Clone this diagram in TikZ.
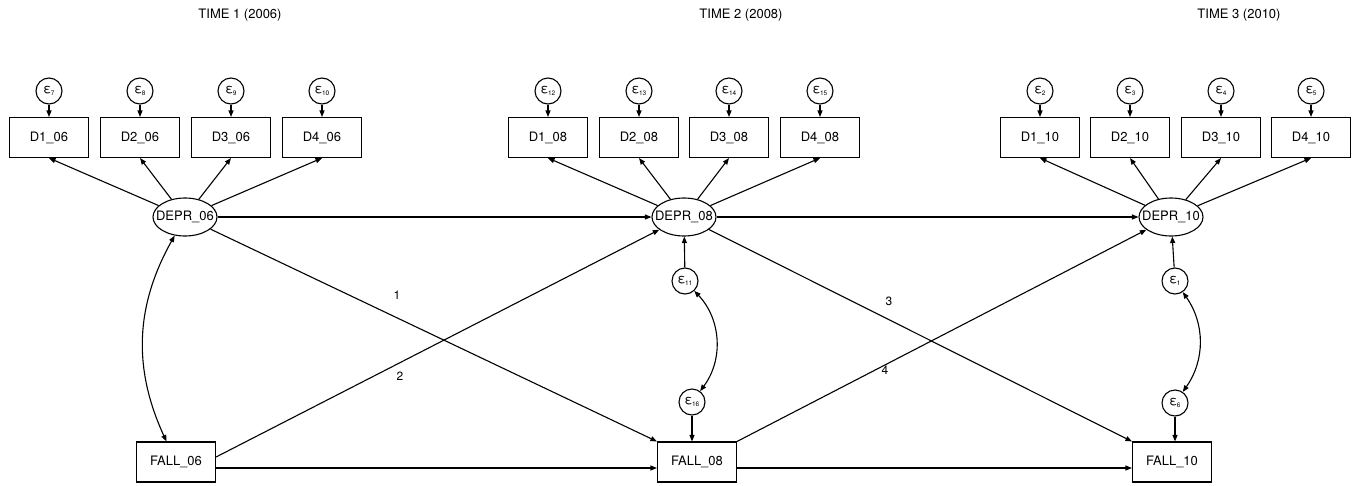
\documentclass[tikz,border=0pt]{standalone}
\usepackage{fontspec}
\setmainfont{TeX Gyre Heros}
\usetikzlibrary{shapes.geometric,arrows.meta}
\newcommand{\eps}[1]{{\fontsize{13}{14}\selectfont ε}\kern-0.5pt{\fontsize{6.5}{7}\selectfont\raisebox{-2.5pt}{#1}}}
\newcommand{\lt}[1]{\makebox[0pt]{#1}}
\begin{document}
\begin{tikzpicture}[x=1pt,y=1pt,
  line width=1.1pt,
  arr/.style={-{Triangle[length=6.5pt,width=5pt]}},
  darr/.style={{Triangle[length=6.5pt,width=5pt]}-{Triangle[length=6.5pt,width=5pt]}},
  obs/.style={draw,rectangle,minimum width=79pt,minimum height=40pt,inner sep=0pt,font=\fontsize{13}{15}\selectfont},
  lat/.style={draw,ellipse,minimum width=64pt,minimum height=38pt,inner sep=0pt,font=\fontsize{13}{15}\selectfont},
  err/.style={draw,circle,minimum size=26pt,inner sep=0pt},
  ttl/.style={font=\fontsize{13}{15}\selectfont},
  lbl/.style={font=\fontsize{12}{14}\selectfont}]
\useasboundingbox (0,0) rectangle (1360,-485);

% titles
\node[ttl] (t1) at (240,-15) {TIME 1 (2006)};
\node[ttl] (t2) at (741,-15) {TIME 2 (2008)};
\node[ttl] (t3) at (1239,-15) {TIME 3 (2010)};

% indicators time 1
\node[obs] (D106) at (49,-137.5) {D1\_06};
\node[obs] (D206) at (140,-137.5) {D2\_06};
\node[obs] (D306) at (231,-137.5) {D3\_06};
\node[obs] (D406) at (322,-137.5) {D4\_06};
\node[err] (e7) at (49,-91) {\eps{7}};
\node[err] (e8) at (140,-91) {\eps{8}};
\node[err] (e9) at (231,-91) {\eps{9}};
\node[err] (e10) at (322,-91) {\eps{10}};

% indicators time 2
\node[obs] (D108) at (548,-137.5) {D1\_08};
\node[obs] (D208) at (639,-137.5) {D2\_08};
\node[obs] (D308) at (729,-137.5) {D3\_08};
\node[obs] (D408) at (820,-137.5) {D4\_08};
\node[err] (e12) at (548,-91) {\eps{12}};
\node[err] (e13) at (639,-91) {\eps{13}};
\node[err] (e14) at (729,-91) {\eps{14}};
\node[err] (e15) at (820,-91) {\eps{15}};

% indicators time 3
\node[obs] (D110) at (1040,-137.5) {D1\_10};
\node[obs] (D210) at (1130,-137.5) {D2\_10};
\node[obs] (D310) at (1221,-137.5) {D3\_10};
\node[obs] (D410) at (1311,-137.5) {D4\_10};
\node[err] (e2) at (1040,-91) {\eps{2}};
\node[err] (e3) at (1130,-91) {\eps{3}};
\node[err] (e4) at (1221,-91) {\eps{4}};
\node[err] (e5) at (1311,-91) {\eps{5}};

% latent
\node[lat] (DEPR06) at (185,-217) {\lt{DEPR\_06}};
\node[lat] (DEPR08) at (684,-217) {\lt{DEPR\_08}};
\node[lat] (DEPR10) at (1171,-217) {\lt{DEPR\_10}};

% falls
\node[obs] (FALL06) at (176,-462) {FALL\_06};
\node[obs] (FALL08) at (697,-462) {FALL\_08};
\node[obs] (FALL10) at (1172,-462) {FALL\_10};

% residuals
\node[err] (e11) at (685,-281) {\eps{11}};
\node[err] (e16) at (692,-402) {\eps{16}};
\node[err] (e1) at (1175,-281) {\eps{1}};
\node[err] (e6) at (1175,-403) {\eps{6}};

% measurement errors
\foreach \e/\d in {e7/D106,e8/D206,e9/D306,e10/D406,e12/D108,e13/D208,e14/D308,e15/D408,e2/D110,e3/D210,e4/D310,e5/D410}
  \draw[arr] (\e) -- (\d);

% loadings
\foreach \l/\d in {DEPR06/D106,DEPR06/D206,DEPR06/D306,DEPR06/D406,DEPR08/D108,DEPR08/D208,DEPR08/D308,DEPR08/D408,DEPR10/D110,DEPR10/D210,DEPR10/D310,DEPR10/D410}
  \draw[arr] (\l) -- (\d.south);

% structural paths
\draw[arr] (DEPR06.east) -- (DEPR08.west);
\draw[arr] (DEPR08.east) -- (DEPR10.west);
\draw[arr] ([yshift=-6pt]FALL06.east) -- ([yshift=-6pt]FALL08.west);
\draw[arr] ([yshift=-6pt]FALL08.east) -- ([yshift=-6pt]FALL10.west);
\draw[arr] (DEPR06) -- (FALL08.north west);
\draw[arr] ([yshift=5pt]FALL06.east) -- (DEPR08);
\draw[arr] (DEPR08) -- (FALL10.north west);
\draw[arr] (FALL08.north east) -- (DEPR10);

% residual paths
\draw[arr] (e11) -- (DEPR08);
\draw[arr] (e1) -- (DEPR10);
\draw[arr] (e16) -- (e16 |- FALL08.north);
\draw[arr] (e6) -- (e6 |- FALL10.north);

% covariances
\draw[darr] (DEPR06) to[bend right=27] (FALL06);
\draw[darr] (e11) to[bend left=40] (e16);
\draw[darr] (e1) to[bend left=35] (e6);

% labels
\node[lbl] (l1) at (397,-295) {1};
\node[lbl] (l2) at (400,-376) {2};
\node[lbl] (l3) at (889,-301) {3};
\node[lbl] (l4) at (885,-370) {4};
\end{tikzpicture}
\end{document}
